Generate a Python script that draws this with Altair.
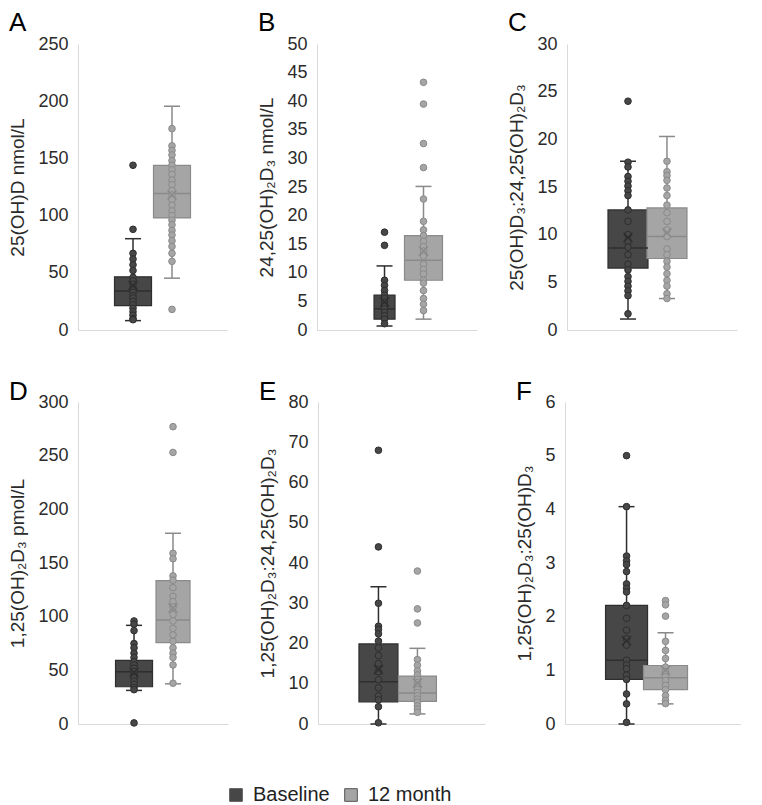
import altair as alt
import pandas as pd

GROUPS = ["Baseline", "12 month"]

# ---- Panel A: 25(OH)D nmol/L
A_BASE = [144, 88, 67, 62, 57, 52, 46, 43, 40, 37, 35, 33, 30, 28, 25, 22, 19, 16, 13, 10, 9]
A_M12 = [176, 161, 157, 153, 148, 144, 140, 136, 131, 127, 122, 118, 114, 109, 104,
         100, 96, 92, 87, 83, 78, 73, 67, 60, 18]
# box stats: q1, median, q3, whisker low, whisker high, mean
A_BOX_BASE = [21.3, 34.2, 46.5, 8.2, 79.8, 39.0]
A_BOX_M12 = [98.0, 119.3, 143.9, 45.3, 195.6, 118.0]

# ---- Panel B: 24,25(OH)2D3 nmol/L
B_BASE = [17.1, 14.8, 8.7, 7.8, 6.9, 6.1, 5.5, 4.9, 4.3, 3.7, 3.1, 2.5, 1.9, 1.1]
B_M12 = [43.3, 39.5, 32.6, 28.4, 22.9, 19.0, 17.5, 16.5, 15.5, 14.6, 13.8, 12.9, 11.5,
         10.6, 9.8, 8.7, 8.2, 6.9, 5.5, 4.5, 3.4]
B_BOX_BASE = [1.9, 3.7, 6.1, 0.7, 11.2, 4.9]
B_BOX_M12 = [8.7, 12.2, 16.5, 1.9, 25.1, 13.8]

# ---- Panel C: 25(OH)D3:24,25(OH)2D3
C_BASE = [24.0, 17.6, 17.1, 16.1, 15.6, 15.1, 14.6, 14.1, 12.6, 11.4, 10.0, 9.3, 8.7, 7.9,
          6.9, 6.3, 5.6, 5.1, 4.6, 4.1, 3.6, 1.7]
C_M12 = [17.7, 16.6, 16.2, 15.7, 14.9, 14.1, 13.1, 12.3, 11.4, 10.5, 9.8, 8.5, 7.9, 7.2,
         6.6, 5.9, 5.2, 4.6, 3.8, 3.3]
C_BOX_BASE = [6.5, 8.6, 12.6, 1.15, 17.7, 9.7]
C_BOX_M12 = [7.5, 9.8, 12.8, 3.3, 20.3, 10.2]

# ---- Panel D: 1,25(OH)2D3 pmol/L
D_BASE = [96, 93, 87, 75, 71, 66, 62, 58, 55, 52, 49, 46, 43, 40, 37, 34, 32, 1]
D_M12 = [277, 253, 159, 154, 138, 134, 127, 119, 114, 109, 102, 96, 89, 83, 77, 71, 66,
         62, 55, 38]
D_BOX_BASE = [34.7, 48.6, 59.2, 31.3, 91.9, 48.0]
D_BOX_M12 = [75.8, 96.8, 133.6, 37.4, 177.7, 108.0]

# ---- Panel E: 1,25(OH)2D3:24,25(OH)2D3
E_BASE = [68, 44, 30, 24.3, 23.5, 22.4, 20.6, 18.9, 17, 15, 13, 11, 9, 7, 6, 4.3, 0.3]
E_M12 = [38, 28.6, 25.1, 16, 14.6, 13.2, 12.2, 11.1, 10.3, 9.5, 8.6, 7.8, 7.0, 6.2, 5.4,
         4.5, 3.7, 2.9]
E_BOX_BASE = [5.5, 10.5, 19.9, 0.0, 34.1, 13.5]
E_BOX_M12 = [5.6, 7.7, 11.9, 2.5, 18.8, 10.2]

# ---- Panel F: 1,25(OH)2D3:25(OH)D3
F_BASE = [5.0, 4.05, 3.13, 3.04, 2.97, 2.84, 2.61, 2.53, 2.46, 2.21, 1.97, 1.75, 1.59,
          1.47, 1.19, 1.10, 1.03, 0.91, 0.83, 0.56, 0.375, 0.03]
F_M12 = [2.30, 2.22, 2.01, 1.54, 1.37, 1.22, 1.06, 0.97, 0.88, 0.81, 0.72, 0.64, 0.53,
         0.44, 0.38]
F_BOX_BASE = [0.83, 1.19, 2.21, 0.0, 4.05, 1.55]
F_BOX_M12 = [0.64, 0.86, 1.09, 0.375, 1.70, 1.0]

FILLS = ["#474747", "#a5a5a5"]
STROKES = ["#2e2e2e", "#8a8a8a"]
FONT = "Liberation Sans"
X_SHAPE = "M-1,-1L1,1M-1,1L1,-1"

LEGEND = alt.Legend(title=None, orient="none", legendX=148, legendY=741,
                    direction="horizontal", symbolType="square", symbolSize=160,
                    symbolStrokeColor="#555555", symbolStrokeWidth=1,
                    labelFontSize=20, labelFont=FONT, labelColor="#222222",
                    columnPadding=11, labelOffset=7)


def panel(letter, ytitle, base_pts, m12_pts, base_box, m12_box, ymax, ystep,
          w, h, pad, box_w, toff):
    pts = pd.DataFrame({
        "cat": "",
        "group": [GROUPS[0]] * len(base_pts) + [GROUPS[1]] * len(m12_pts),
        "value": list(base_pts) + list(m12_pts),
    })
    keys = ["q1", "med", "q3", "lo", "hi", "mean"]
    rows = []
    for g, b in zip(GROUPS, [base_box, m12_box]):
        d = dict(zip(keys, b))
        d["group"] = g
        d["cat"] = ""
        rows.append(d)
    box = pd.DataFrame(rows)

    xenc = alt.X("cat:N", scale=alt.Scale(paddingInner=pad, paddingOuter=pad),
                 axis=alt.Axis(title=None, labels=False, ticks=False, domain=True,
                               domainColor="#d9d9d9", domainWidth=1))
    xo = alt.XOffset("group:N", scale=alt.Scale(domain=GROUPS, paddingInner=0, paddingOuter=0))
    ysc = alt.Scale(domain=[0, ymax], nice=False, zero=True)
    yvals = [round(i * ystep, 6) for i in range(int(round(ymax / ystep)) + 1)]
    yax = alt.Axis(title=ytitle, values=yvals, grid=False, ticks=False, domain=True,
                   domainColor="#d9d9d9", domainWidth=1, labelFontSize=18,
                   labelColor="#2b2b2b", labelPadding=10, titleFontSize=19,
                   titleFontWeight="normal", titleColor="#2b2b2b", titlePadding=10,
                   labelFont=FONT, titleFont=FONT)

    def Y(f):
        return alt.Y(f"{f}:Q", scale=ysc, axis=yax)

    is_base = alt.datum.group == GROUPS[0]
    bw = alt.condition(is_base, alt.value(box_w[0]), alt.value(box_w[1]))
    fill = alt.Fill("group:N", scale=alt.Scale(domain=GROUPS, range=FILLS), legend=LEGEND)
    stroke = alt.condition(is_base, alt.value(STROKES[0]), alt.value(STROKES[1]))

    base = alt.Chart(box).encode(x=xenc, xOffset=xo)
    whisk = base.mark_rule(strokeWidth=1.5).encode(y=Y("lo"), y2="hi:Q", stroke=stroke)
    cap_hi = base.mark_tick(thickness=1.5, size=16, opacity=1).encode(y=Y("hi"), color=stroke)
    cap_lo = base.mark_tick(thickness=1.5, size=16, opacity=1).encode(y=Y("lo"), color=stroke)
    bar = base.mark_bar(strokeWidth=1.2).encode(y=Y("q1"), y2="q3:Q", fill=fill,
                                                stroke=stroke, size=bw)
    med = base.mark_tick(thickness=1.5, opacity=1).encode(y=Y("med"), color=stroke, size=bw)
    dots = alt.Chart(pts).mark_point(shape="circle", filled=True, size=44, opacity=1,
                                     strokeWidth=1).encode(
        x=xenc, xOffset=xo, y=Y("value"), fill=fill, stroke=stroke)
    mean = base.mark_point(shape=X_SHAPE, filled=False, size=80, strokeWidth=1.5,
                           opacity=1).encode(y=Y("mean"), stroke=stroke)
    return alt.layer(whisk, cap_hi, cap_lo, bar, med, dots, mean).properties(
        width=w, height=h,
        title=alt.TitleParams(letter, anchor="start", offset=toff, fontSize=26,
                              fontWeight="normal", color="#000000", font=FONT))


pA = panel("A", "25(OH)D nmol/L", A_BASE, A_M12, A_BOX_BASE, A_BOX_M12,
           250, 50, 149, 286, 0.313, (37, 37), -1)
pB = panel("B", "24,25(OH)₂D₃ nmol/L", B_BASE, B_M12, B_BOX_BASE, B_BOX_M12,
           50, 5, 160, 286, 0.429, (21, 38), -1)
pC = panel("C", "25(OH)D₃:24,25(OH)₂D₃", C_BASE, C_M12, C_BOX_BASE, C_BOX_M12,
           30, 5, 170, 286, 0.323, (40, 40), -1)
pD = panel("D", "1,25(OH)₂D₃ pmol/L", D_BASE, D_M12, D_BOX_BASE, D_BOX_M12,
           300, 50, 150, 322, 0.322, (37, 34), -12)
pE = panel("E", "1,25(OH)₂D₃:24,25(OH)₂D₃", E_BASE, E_M12, E_BOX_BASE, E_BOX_M12,
           80, 10, 167, 322, 0.325, (39, 38), -12)
pF = panel("F", "1,25(OH)₂D₃:25(OH)D₃", F_BASE, F_M12, F_BOX_BASE, F_BOX_M12,
           6, 1, 176, 322, 0.314, (42, 44), -12)

row1 = alt.hconcat(pA, pB, pC, spacing=30)
row2 = alt.hconcat(pD, pE, pF, spacing=30)
chart = alt.vconcat(row1, row2, spacing=40).properties(
    padding={"left": 0, "top": 2, "right": 0, "bottom": 0}
).configure(font=FONT).configure_view(stroke=None)

chart.save("out.html", embed_options={"renderer": "svg", "actions": False})
